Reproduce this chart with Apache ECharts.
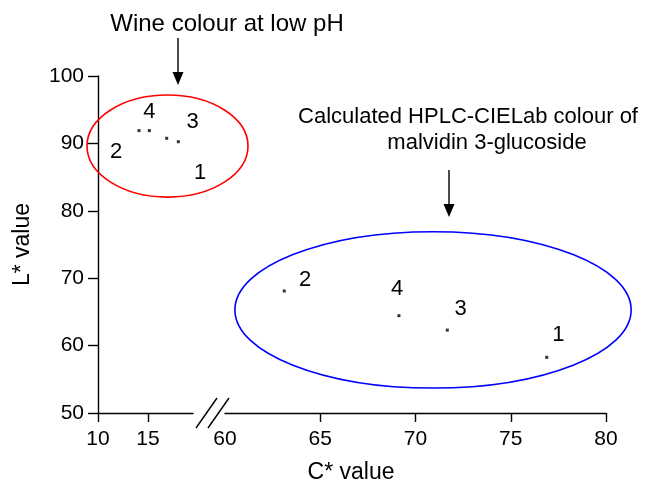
<!DOCTYPE html>
<html>
<head>
<meta charset="utf-8">
<script src="https://cdn.jsdelivr.net/npm/echarts@6/dist/echarts.min.js"></script>
<style>html,body{margin:0;padding:0;background:#fff}#c{width:668px;height:485px}</style>
</head>
<body>
<div id="c"></div>
<script>
// ---- data ----
const yTicks = [50, 60, 70, 80, 90, 100];
const leftXTicks = [10, 15];
const rightXTickMarks = [65, 70, 75, 80];
const rightXTickLabels = [60, 65, 70, 75, 80];
// wine colour at low pH (C*, L*)
const wineC = [14.1, 15.13, 16.87, 18.03];
const wineL = [91.9, 91.9, 90.76, 90.25];
const wineLabelNames = ['4', '3', '2', '1'];
const wineLabelC = [15.13, 19.47, 11.8, 20.2];
const wineLabelL = [94.7, 93.25, 88.8, 85.56];
// calculated HPLC-CIELab colour of malvidin 3-glucoside (C*, L*)
const malvC = [63.11, 69.13, 71.67, 76.89];
const malvL = [68.1, 64.44, 62.3, 58.26];
const malvLabelNames = ['2', '4', '3', '1'];
const malvLabelC = [64.2, 69.04, 72.37, 77.5];
const malvLabelL = [69.73, 68.35, 65.43, 61.57];
// annotation ellipses in data units: [cx, cy, rx, ry]
const redEllipse = [16.95, 89.6, 8.05, 7.57];
const blueEllipse = [70.92, 65.3, 10.4, 11.6];

const FONT = '"Liberation Sans", Arial, Helvetica, sans-serif';
const chart = echarts.init(document.getElementById('c'), null, {renderer: 'canvas'});

const zip = (a, b) => a.map((v, i) => [v, b[i]]);
const zipLab = (a, b, n) => a.map((v, i) => ({value: [v, b[i]], name: n[i]}));

const axisLine = {show: true, onZero: false, lineStyle: {color: '#000', width: 1.4}};
const tickStyle = {lineStyle: {color: '#000', width: 1.4}};

const labelSeries = (data, xi) => ({
  type: 'scatter', xAxisIndex: xi, yAxisIndex: xi, clip: false,
  symbolSize: 0, itemStyle: {color: '#000', opacity: 1},
  data: data, silent: true,
  label: {show: true, position: 'inside', formatter: '{b}', color: '#000', fontSize: 22,
          textBorderWidth: 0, textBorderColor: 'transparent', fontFamily: FONT}
});

const option = {
  animation: false,
  textStyle: {fontFamily: FONT, color: '#000'},
  grid: [
    {left: 98, top: 76, width: 95, bottom: 72},
    {left: 225, top: 76, width: 381, bottom: 72}
  ],
  xAxis: [
    {gridIndex: 0, type: 'value', min: 10, max: 19.5,
     axisLine: axisLine, splitLine: {show: false},
     axisTick: Object.assign({show: true, length: 9, customValues: leftXTicks}, tickStyle),
     axisLabel: {customValues: leftXTicks, fontSize: 21, color: '#000', margin: 16, fontFamily: FONT}},
    {gridIndex: 1, type: 'value', min: 60, max: 80,
     axisLine: axisLine, splitLine: {show: false},
     axisTick: Object.assign({show: true, length: 9, customValues: rightXTickMarks}, tickStyle),
     axisLabel: {customValues: rightXTickLabels, fontSize: 21, color: '#000', margin: 16, fontFamily: FONT}}
  ],
  yAxis: [
    {gridIndex: 0, type: 'value', min: 50, max: 100, interval: 10,
     axisLine: axisLine, splitLine: {show: false},
     axisTick: Object.assign({show: true, length: 10}, tickStyle),
     axisLabel: {customValues: yTicks, fontSize: 21, color: '#000', margin: 14, fontFamily: FONT},
     name: 'L* value', nameLocation: 'middle', nameGap: 64,
     nameTextStyle: {fontSize: 23, color: '#000', fontFamily: FONT}},
    {gridIndex: 1, type: 'value', min: 50, max: 100, interval: 10, show: false}
  ],
  series: [
    {type: 'scatter', name: 'Wine colour at low pH', xAxisIndex: 0, yAxisIndex: 0, clip: false,
     symbol: 'rect', symbolSize: 3, itemStyle: {color: '#000'}, data: zip(wineC, wineL)},
    labelSeries(zipLab(wineLabelC, wineLabelL, wineLabelNames), 0),
    {type: 'scatter', name: 'Malvidin 3-glucoside', xAxisIndex: 1, yAxisIndex: 1, clip: false,
     symbol: 'rect', symbolSize: 3, itemStyle: {color: '#000'}, data: zip(malvC, malvL)},
    labelSeries(zipLab(malvLabelC, malvLabelL, malvLabelNames), 1)
  ]
};
chart.setOption(option);

function ell(gridIndex, e, color) {
  const c = chart.convertToPixel({gridIndex: gridIndex}, [e[0], e[1]]);
  const px = chart.convertToPixel({gridIndex: gridIndex}, [e[0] + e[2], e[1] + e[3]]);
  return {type: 'ellipse', z: 50, silent: true,
    shape: {cx: c[0], cy: c[1], rx: Math.abs(px[0] - c[0]), ry: Math.abs(px[1] - c[1])},
    style: {fill: null, stroke: color, lineWidth: 1.6}};
}
function arrow(x, y1, y2) {
  return [
    {type: 'line', z: 50, shape: {x1: x, y1: y1, x2: x, y2: y2 - 10}, style: {stroke: '#000', lineWidth: 1.4}},
    {type: 'polygon', z: 50, shape: {points: [[x - 5.5, y2 - 13], [x + 5.5, y2 - 13], [x, y2]]}, style: {fill: '#000'}}
  ];
}
const graphics = [
  ell(0, redEllipse, '#ff0000'),
  ell(1, blueEllipse, '#0000ff'),
  ...arrow(178, 38, 85),
  ...arrow(449, 170, 217),
  {type: 'text', z: 50, style: {text: 'Wine colour at low pH', x: 227, y: 24, align: 'center', verticalAlign: 'middle', font: '24px ' + FONT, fill: '#000'}},
  {type: 'text', z: 50, style: {text: 'Calculated HPLC-CIELab colour of', x: 468, y: 117, align: 'center', verticalAlign: 'middle', font: '22px ' + FONT, fill: '#000'}},
  {type: 'text', z: 50, style: {text: 'malvidin 3-glucoside', x: 487, y: 143, align: 'center', verticalAlign: 'middle', font: '22px ' + FONT, fill: '#000'}},
  {type: 'text', z: 50, style: {text: 'C* value', x: 351, y: 473, align: 'center', verticalAlign: 'middle', font: '23px ' + FONT, fill: '#000'}},
  // axis break mask and slashes
  {type: 'polygon', z: 60, shape: {points: [[198, 428], [219, 398], [228, 398], [207, 428]]}, style: {fill: '#fff'}},
  {type: 'line', z: 61, shape: {x1: 196, y1: 428, x2: 217, y2: 398}, style: {stroke: '#000', lineWidth: 1.4}},
  {type: 'line', z: 61, shape: {x1: 208, y1: 428, x2: 229, y2: 398}, style: {stroke: '#000', lineWidth: 1.4}}
];
chart.setOption({graphic: graphics});
</script>
</body>
</html>
